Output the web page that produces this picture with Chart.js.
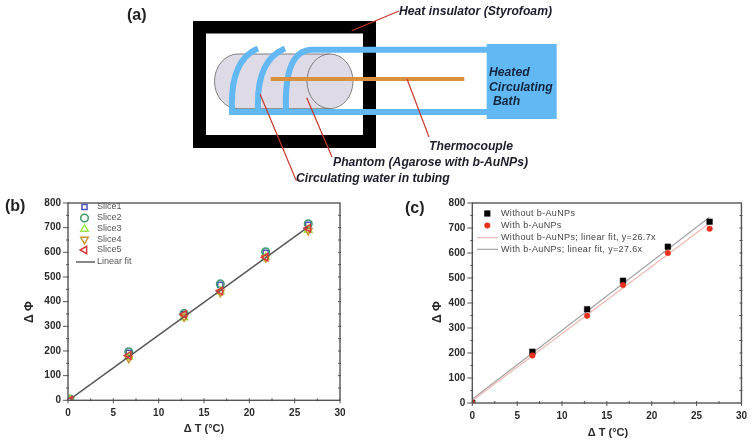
<!DOCTYPE html>
<html>
<head>
<meta charset="utf-8">
<script src="https://cdn.jsdelivr.net/npm/chart.js@4/dist/chart.umd.js"></script>
<style>
  html, body { margin: 0; padding: 0; background: #fff; }
  #page { position: relative; width: 754px; height: 444px; overflow: hidden; filter: blur(0.35px); }
  #page canvas, #page svg { position: absolute; }
  .tag { position: absolute; font: bold 16px "Liberation Sans", Arial, sans-serif; color: #222; }
  svg text { font-family: "Liberation Sans", Arial, sans-serif; font-weight: bold; font-style: italic; font-size: 12.2px; fill: #1c1c2c; }
</style>
</head>
<body>
<div id="page">
  <svg width="754" height="195" style="left:0;top:0">
    <!-- схема установки -->
    <path d="M193 21H376V148H193Z M206 33.5V135H363V33.5Z" fill="#000" fill-rule="evenodd"/>
    <path d="M238 54H330V108.7H238A23.5 27.35 0 0 1 238 54Z" fill="#dedbe6" stroke="#666" stroke-width="0.8"/>
    <ellipse cx="330" cy="81.3" rx="23" ry="27.3" fill="#dedbe6" stroke="#666" stroke-width="0.8"/>
    <g fill="none" stroke="#62b8f2" stroke-width="6">
      <path d="M232 110Q230 60 258 48.5"/>
      <path d="M258 110Q256 60 285 48.5"/>
      <path d="M286 110Q284 50 312 49.7H488"/>
      <path d="M229 112H488"/>
    </g>
    <rect x="486.7" y="44" width="70" height="75" fill="#62b8f2"/>
    <rect x="270.7" y="77" width="193.6" height="4" fill="#d9913f"/>
    <g stroke="#c8392b" stroke-width="1.2" fill="none">
      <path d="M399 11L351.7 30.7"/>
      <path d="M407 79L429 137"/>
      <path d="M306.7 97.7L332 157"/>
      <path d="M260 94L296 180H300"/>
    </g>
    <text x="399" y="15">Heat insulator (Styrofoam)</text>
    <text x="429" y="150">Thermocouple</text>
    <text x="333" y="166">Phantom (Agarose with b-AuNPs)</text>
    <text x="296" y="182">Circulating water in tubing</text>
    <text x="489" y="76" style="fill:#12263f">Heated</text>
    <text x="489" y="91" style="fill:#12263f">Circulating</text>
    <text x="493" y="105" style="fill:#12263f">Bath</text>
  </svg>
  <div class="tag" style="left:127px;top:6px">(a)</div>
  <div class="tag" style="left:5px;top:197px">(b)</div>
  <div class="tag" style="left:405px;top:199px">(c)</div>
  <canvas id="chart-b" width="350" height="250" style="left:20px;top:190px"></canvas>
  <canvas id="chart-c" width="354" height="254" style="left:400px;top:190px"></canvas>
</div>
<script>
// значения
const tempB = [0.2, 6.7, 12.8, 16.8, 21.8, 26.5];
const slice1 = [0, 193, 350, 468, 598, 712];
const slice2 = [5, 197, 352, 472, 602, 716];
const slice3 = [3, 176, 335, 441, 580, 690];
const slice4 = [2, 170, 338, 437, 578, 688];
const slice5 = [0, 182, 348, 443, 580, 698];
const fitBx = [0.2, 26.5];
const fitBy = [4, 703];

const tempC = [0, 6.7, 12.8, 16.8, 21.8, 26.45];
const withoutNp = [0, 205, 375, 489, 625, 725];
const withNp = [0, 190, 349, 472, 600, 697];
const fitCx = [0.1, 26.4];
const fitWithout = [12, 718];
const fitWith = [18, 742];

const xTicks = [0, 5, 10, 15, 20, 25, 30];
const yTicks = [0, 100, 200, 300, 400, 500, 600, 700, 800];

const toPoints = (xs, ys) => xs.map((x, i) => ({ x, y: ys[i] }));
const axisColor = '#555';
const textColor = '#2a2a2a';

// рамка, мелкие риски, подписи осей и легенда
const framePlugin = {
  id: 'frame',
  afterDraw(chart, args, opts) {
    const { ctx, chartArea: a, scales: { x, y } } = chart;
    ctx.save();
    ctx.strokeStyle = axisColor;
    ctx.lineWidth = 1.4;
    ctx.strokeRect(a.left, a.top, a.right - a.left, a.bottom - a.top);

    ctx.lineWidth = 1;
    ctx.beginPath();
    for (let v = 0; v <= 800; v += 50) {
      const py = y.getPixelForValue(v);
      const major = v % 100 === 0;
      ctx.moveTo(a.left - (major ? 5 : 2), py);
      ctx.lineTo(a.left + 1, py);
      if (v > 0 && v < 800) {
        ctx.moveTo(a.right - 2, py);
        ctx.lineTo(a.right + 1, py);
      }
    }
    for (let v = 0; v <= 30; v += 2.5) {
      const px = x.getPixelForValue(v);
      const major = v % 5 === 0;
      ctx.moveTo(px, a.bottom + (major ? 3 : 1));
      ctx.lineTo(px, a.bottom - 2);
    }
    ctx.stroke();

    ctx.fillStyle = textColor;
    ctx.font = 'bold 11px "Liberation Sans", Arial, sans-serif';
    ctx.textAlign = 'center';
    ctx.textBaseline = 'middle';
    ctx.fillText('Δ T (°C)', opts.xTitle[0], opts.xTitle[1]);
    ctx.translate(opts.yTitle[0], opts.yTitle[1]);
    ctx.rotate(-Math.PI / 2);
    ctx.font = 'bold 12px "Liberation Sans", Arial, sans-serif';
    ctx.fillText('Δ Φ', 0, 0);
    ctx.restore();

    ctx.save();
    ctx.font = '9px "Liberation Sans", Arial, sans-serif';
    ctx.textBaseline = 'middle';
    ctx.letterSpacing = opts.legendSpacing;
    chart.data.datasets.forEach((ds, i) => {
      const row = opts.rows[i];
      if (ds.showLine) {
        ctx.strokeStyle = ds.borderColor;
        ctx.lineWidth = ds.borderWidth;
        ctx.beginPath();
        ctx.moveTo(opts.lineFrom, row);
        ctx.lineTo(opts.lineTo, row);
        ctx.stroke();
      } else {
        ctx.strokeStyle = ds.pointBorderColor;
        ctx.fillStyle = ds.pointBackgroundColor;
        ctx.lineWidth = ds.pointBorderWidth;
        Chart.helpers.drawPoint(ctx, {
          pointStyle: ds.pointStyle,
          radius: ds.pointRadius,
          rotation: ds.pointRotation || 0,
          borderWidth: ds.pointBorderWidth
        }, opts.markerX, row);
      }
      ctx.fillStyle = opts.legendColor;
      ctx.fillText(ds.label, opts.textX, row);
    });
    ctx.restore();
  }
};

function axes() {
  const tickFont = { family: '"Liberation Sans", Arial, sans-serif', size: 10, weight: 'bold' };
  return {
    x: {
      type: 'linear', min: 0, max: 30,
      afterBuildTicks: s => { s.ticks = xTicks.map(value => ({ value })); },
      afterFit: s => { s.height = 38; },
      grid: { drawOnChartArea: false, drawTicks: false },
      border: { display: false },
      ticks: { font: tickFont, color: textColor, padding: 7, maxRotation: 0 }
    },
    y: {
      type: 'linear', min: 0, max: 800,
      afterBuildTicks: s => { s.ticks = yTicks.map(value => ({ value })); },
      afterFit: s => { s.width = 48; },
      grid: { drawOnChartArea: false, drawTicks: false },
      border: { display: false },
      ticks: { font: tickFont, color: textColor, padding: 7 }
    }
  };
}

// order: меньшее значение рисуется поверх
function marks(label, xs, ys, color, style, rotation, radius, filled, order) {
  return {
    label, data: toPoints(xs, ys), showLine: false,
    pointStyle: style, pointRadius: radius, pointRotation: rotation,
    pointBorderColor: color, pointBackgroundColor: filled ? color : 'transparent',
    pointBorderWidth: filled ? 0.5 : 1.5, order
  };
}

function fitLine(label, xs, ys, color, width, order) {
  return {
    label, data: toPoints(xs, ys), showLine: true, pointRadius: 0,
    borderColor: color, borderWidth: width, order, tension: 0
  };
}

new Chart(document.getElementById('chart-b'), {
  type: 'scatter',
  data: {
    datasets: [
      marks('Slice1', tempB, slice1, '#4a55b5', 'rect', 0, 3.6, false, 6),
      marks('Slice2', tempB, slice2, '#3f9a6a', 'circle', 0, 3.8, false, 5),
      marks('Slice3', tempB, slice3, '#9be64a', 'triangle', 0, 4.3, false, 4),
      marks('Slice4', tempB, slice4, '#c8942e', 'triangle', 180, 4.3, false, 3),
      marks('Slice5', tempB, slice5, '#d83a3a', 'triangle', 270, 4.3, false, 1),
      fitLine('Linear fit', fitBx, fitBy, '#555', 1.4, 2)
    ]
  },
  options: {
    responsive: false,
    animation: false,
    layout: { padding: { left: 0, right: 30, top: 10.3, bottom: 1.7 } },
    scales: axes(),
    plugins: {
      legend: { display: false },
      tooltip: { enabled: false },
      frame: {
        xTitle: [184, 239], yTitle: [10, 122],
        rows: [17, 28, 39, 49.5, 60, 72],
        markerX: 64.5, textX: 77, lineFrom: 56, lineTo: 75,
        legendColor: '#555', legendSpacing: '0px'
      }
    }
  },
  plugins: [framePlugin]
});

new Chart(document.getElementById('chart-c'), {
  type: 'scatter',
  data: {
    datasets: [
      marks('Without b-AuNPs', tempC, withoutNp, '#000', 'rect', 0, 4, true, 2),
      marks('With b-AuNPs', tempC, withNp, '#e8301c', 'circle', 0, 2.8, true, 1),
      fitLine('Without b-AuNPs; linear fit, y=26.7x', fitCx, fitWithout, '#f2b8b2', 1.2, 3),
      fitLine('With b-AuNPs; linear fit, y=27.6x', fitCx, fitWith, '#a3a3a3', 1.2, 3)
    ]
  },
  options: {
    responsive: false,
    animation: false,
    layout: { padding: { left: 24.3, right: 10, top: 13, bottom: 3 } },
    scales: axes(),
    plugins: {
      legend: { display: false },
      tooltip: { enabled: false },
      frame: {
        xTitle: [208, 243], yTitle: [38, 122],
        rows: [23.5, 35.5, 47.7, 59.3],
        markerX: 87.3, textX: 101, lineFrom: 77, lineTo: 98,
        legendColor: '#444', legendSpacing: '0.35px'
      }
    }
  },
  plugins: [framePlugin]
});
</script>
</body>
</html>
